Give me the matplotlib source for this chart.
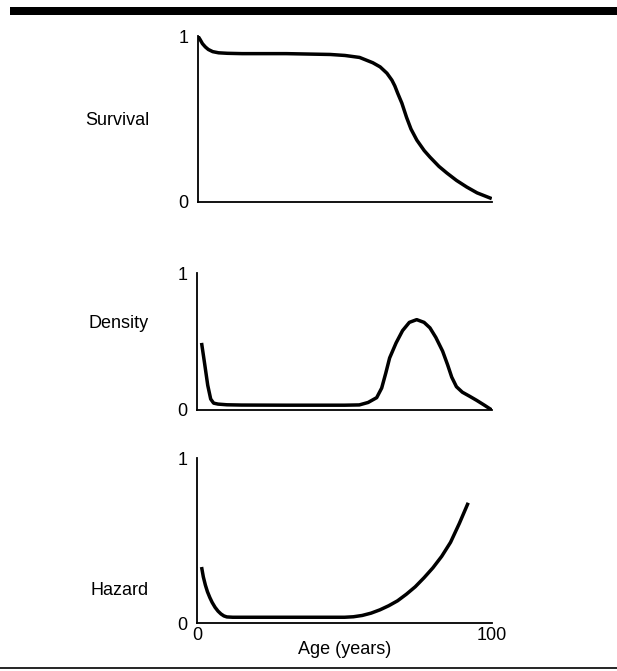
import matplotlib
matplotlib.use('Agg')
import matplotlib.pyplot as plt
from matplotlib.patches import Rectangle
from matplotlib.lines import Line2D

plt.rcParams['font.family'] = ['Liberation Sans', 'DejaVu Sans']

# values (age in years, value on 0..1 scale)
surv_age = [0, 0.7, 1.5, 2.5, 3.5, 5, 7, 10, 15, 30, 45, 50, 55, 59.5, 62, 64.3, 66, 67, 68,
            69.4, 71, 72.5, 74.5, 77, 79, 82, 84.7, 88, 91.5, 95, 100]
surv_val = [1.0, 0.98, 0.955, 0.935, 0.92, 0.907, 0.90, 0.897, 0.895, 0.895, 0.89, 0.884, 0.872,
            0.84, 0.815, 0.777, 0.735, 0.70, 0.655, 0.596, 0.51, 0.44, 0.373, 0.31, 0.27, 0.215,
            0.175, 0.13, 0.09, 0.055, 0.02]

dens_age = [1.4, 2.5, 3.5, 4.5, 5.5, 7, 10, 15, 30, 45, 50, 55, 58, 60.9, 62.6, 64, 65.3, 67.5,
            69.7, 72, 74.5, 77, 79, 81, 83.3, 85, 86.4, 88, 90, 92.5, 94.9, 97.5, 100]
dens_val = [0.49, 0.33, 0.18, 0.08, 0.05, 0.043, 0.038, 0.036, 0.035, 0.035, 0.035, 0.037, 0.055,
            0.09, 0.16, 0.27, 0.38, 0.49, 0.58, 0.64, 0.66, 0.64, 0.60, 0.53, 0.43, 0.33, 0.24,
            0.17, 0.13, 0.10, 0.07, 0.035, 0.0]

haz_age = [1.4, 2, 2.7, 3.4, 4.2, 5, 6, 7, 8, 9, 10, 12, 20, 35, 50, 53, 56, 59, 62, 65, 68, 71,
           74, 77, 80, 83, 86, 89, 92]
haz_val = [0.34, 0.28, 0.23, 0.19, 0.155, 0.125, 0.095, 0.072, 0.055, 0.043, 0.037, 0.035, 0.035,
           0.035, 0.035, 0.038, 0.046, 0.06, 0.08, 0.105, 0.135, 0.175, 0.22, 0.275, 0.335, 0.405,
           0.49, 0.605, 0.73]

names = ['Survival', 'Density', 'Hazard']
label_y = [0.49, 0.63, 0.20]

fig = plt.figure(figsize=(6.17, 6.71), dpi=100)

boxes = [[0.321, 0.699, 0.476, 0.247],
         [0.320, 0.389, 0.477, 0.204],
         [0.320, 0.0715, 0.477, 0.2455]]
series = [(surv_age, surv_val), (dens_age, dens_val), (haz_age, haz_val)]

for i, (box, (xs, ys)) in enumerate(zip(boxes, series)):
    ax = fig.add_axes(box)
    ax.plot(xs, ys, color='black', lw=2.5, solid_capstyle='butt', solid_joinstyle='round')
    ax.set_xlim(0, 100)
    ax.set_ylim(0, 1)
    ax.spines['top'].set_visible(False)
    ax.spines['right'].set_visible(False)
    ax.spines['left'].set_linewidth(1.3)
    ax.spines['bottom'].set_linewidth(1.3)
    ax.set_yticks([0, 1])
    ax.set_yticklabels(['0', '1'], fontsize=13)
    ax.tick_params(axis='y', length=0, pad=7)
    if i == 2:
        ax.set_xticks([0, 100])
        ax.set_xticklabels(['0', '100'], fontsize=13)
        ax.tick_params(axis='x', length=0, pad=3)
        ax.set_xlabel('Age (years)', fontsize=13, labelpad=-2)
    else:
        ax.set_xticks([])
    ax.text(-0.165, label_y[i], names[i], transform=ax.transAxes,
            ha='right', va='center', fontsize=13)

# thick rule at the top, thin rule at the bottom
fig.add_artist(Rectangle((0.016, 0.978), 0.984, 0.012, transform=fig.transFigure,
                         facecolor='black', edgecolor='none'))
fig.add_artist(Line2D([0, 1], [0.004, 0.004], transform=fig.transFigure,
                      color='black', lw=1.2))

fig.savefig('out.png', dpi=100)
